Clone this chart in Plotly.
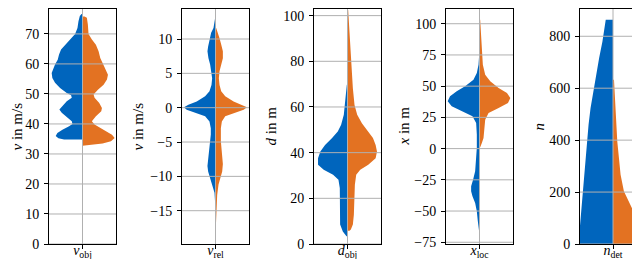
import plotly.graph_objects as go

BLUE = "#0065BD"
ORANGE = "#E37222"
GRID = "#b0b0b0"
FONT = "Liberation Serif"

# ---------------- data (density half-widths) -------------
# Panel 1: v_obj
vobj_blue_y = [76.6, 76.0, 74.2, 72.0, 70.0, 68.1, 66.4, 64.8, 63.1, 61.4, 59.8, 58.1, 57.0, 55.3,
               53.7, 52.0, 50.3, 49.6, 48.7, 47.6, 45.9, 44.8, 43.7, 42.0, 40.9, 40.0, 39.2,
               38.1, 37.0, 36.0, 35.2, 34.8]
vobj_blue_w = [0.03, 0.08, 0.12, 0.15, 0.22, 0.37, 0.52, 0.64, 0.70, 0.74, 0.82, 0.89, 0.92, 0.90,
               0.82, 0.67, 0.47, 0.34, 0.32, 0.47, 0.62, 0.69, 0.62, 0.44, 0.32, 0.30, 0.40,
               0.60, 0.75, 0.80, 0.72, 0.55]
vobj_orange_y = [75.8, 75.4, 73.1, 70.0, 68.1, 66.4, 64.2, 62.0, 60.3, 58.1, 56.4, 54.8, 53.1,
                 51.4, 49.8, 48.7, 47.0, 45.3, 44.2, 42.6, 40.9, 39.8, 38.1, 36.4, 35.3, 34.2,
                 33.5, 33.0, 32.7]
vobj_orange_w = [0.06, 0.13, 0.16, 0.18, 0.28, 0.40, 0.48, 0.53, 0.60, 0.70, 0.76, 0.73, 0.63,
                 0.46, 0.33, 0.36, 0.50, 0.58, 0.56, 0.40, 0.28, 0.36, 0.62, 0.88, 0.96, 0.85,
                 0.60, 0.30, 0.10]

# Panel 2: v_rel
vrel_blue_y = [13.1, 11.6, 10.9, 9.9, 8.9, 8.2, 7.2, 6.3, 5.3, 4.3, 3.3, 2.4, 1.65, 0.9, 0.44, 0.05,
               -0.3, -0.8, -1.26, -2.0, -3.0, -3.9, -4.9, -5.9, -6.8, -7.8, -8.5, -9.3, -10.0,
               -10.7, -11.5, -12.4, -13.6, -15.0]
vrel_blue_w = [0.01, 0.06, 0.13, 0.18, 0.22, 0.24, 0.21, 0.16, 0.12, 0.10, 0.12, 0.18, 0.31, 0.56,
               0.81, 0.94, 0.86, 0.56, 0.31, 0.18, 0.14, 0.14, 0.16, 0.18, 0.20, 0.22, 0.24, 0.22,
               0.18, 0.13, 0.08, 0.03, 0.015, 0.005]
vrel_orange_y = [11.6, 11.1, 10.1, 9.2, 8.2, 7.2, 6.3, 5.3, 4.3, 3.3, 2.4, 1.65, 0.9, 0.44, 0.05,
                 -0.3, -0.8, -1.26, -2.0, -3.0, -4.9, -6.8, -8.2, -9.3, -10.2, -11.2, -12.7,
                 -14.6, -16.6, -18.5]
vrel_orange_w = [0.02, 0.06, 0.12, 0.17, 0.22, 0.22, 0.17, 0.12, 0.10, 0.12, 0.17, 0.29, 0.54,
                 0.79, 0.94, 0.84, 0.54, 0.29, 0.19, 0.16, 0.16, 0.19, 0.22, 0.20, 0.14, 0.09,
                 0.05, 0.03, 0.02, 0.008]

# Panel 3: d_obj
dobj_blue_y = [69.7, 65.3, 60.9, 56.6, 52.2, 49.3, 46.4, 43.4, 40.5, 37.6, 34.7, 32.5, 30.3, 28.1,
               24.5, 18.7, 12.8, 8.5, 5.5, 4.1, 3.4]
dobj_blue_w = [0.02, 0.05, 0.08, 0.11, 0.19, 0.29, 0.46, 0.67, 0.81, 0.88, 0.88, 0.71, 0.43, 0.27,
               0.23, 0.23, 0.24, 0.22, 0.14, 0.08, 0.03]
dobj_orange_y = [102.5, 94.5, 85.7, 77.0, 68.2, 60.9, 56.6, 52.9, 49.3, 46.4, 43.4, 40.5, 37.6,
                 34.7, 32.5, 30.3, 25.9, 20.1, 12.8, 8.5, 6.3, 5.8]
dobj_orange_w = [0.02, 0.05, 0.08, 0.11, 0.16, 0.21, 0.29, 0.43, 0.62, 0.76, 0.84, 0.88, 0.84,
                 0.62, 0.38, 0.26, 0.22, 0.21, 0.19, 0.16, 0.10, 0.06]

# Panel 4: x_loc
xloc_blue_y = [75.2, 67.2, 60.5, 55.2, 49.9, 45.9, 41.9, 37.9, 33.9, 29.9, 25.9, 20.5, 11.2, 0.5,
               -10.1, -18.1, -24.8, -30.1, -34.1, -38.1, -43.5, -50.1, -58.1, -66.2, -68.8]
xloc_blue_w = [0.01, 0.03, 0.08, 0.18, 0.43, 0.68, 0.88, 0.95, 0.83, 0.53, 0.21, 0.10, 0.08, 0.08,
               0.10, 0.13, 0.19, 0.25, 0.25, 0.21, 0.13, 0.08, 0.05, 0.02, 0.01]
xloc_orange_y = [103.2, 91.2, 77.9, 67.2, 59.2, 53.9, 48.5, 44.5, 40.5, 36.5, 32.5, 28.5, 23.2,
                 16.5, 8.5, 4.5, 1.9, 1.1]
xloc_orange_w = [0.02, 0.04, 0.07, 0.10, 0.17, 0.32, 0.57, 0.82, 0.92, 0.85, 0.57, 0.27, 0.17,
                 0.15, 0.12, 0.07, 0.04, 0.02]

# Panel 5: n_det
ndet_blue_y = [864, 832, 780, 716, 652, 588, 524, 460, 395, 331, 267, 203, 139, 87, 40, 0]
ndet_blue_w = [0.22, 0.25, 0.32, 0.42, 0.51, 0.61, 0.68, 0.74, 0.78, 0.83, 0.88, 0.91, 0.96,
               0.99, 1.02, 1.05]
ndet_orange_y = [633, 588, 524, 460, 395, 331, 267, 203, 139, 113, 74, 49, 23, 10, 0]
ndet_orange_w = [0.03, 0.05, 0.07, 0.09, 0.13, 0.18, 0.23, 0.33, 0.58, 0.68, 0.83, 0.91, 0.93,
                 0.91, 0.88]

# ---------------- axes description -------------
x_labels = ["<i>v</i><sub>obj</sub>", "<i>v</i><sub>rel</sub>", "<i>d</i><sub>obj</sub>",
            "<i>x</i><sub>loc</sub>", "<i>n</i><sub>det</sub>"]
y_titles = ["<i>v</i> in m/s", "<i>v</i> in m/s", "<i>d</i> in m", "<i>x</i> in m", "<i>n</i>"]
y_ticks = [[0, 10, 20, 30, 40, 50, 60, 70],
           [-15, -10, -5, 0, 5, 10],
           [0, 20, 40, 60, 80, 100],
           [-75, -50, -25, 0, 25, 50, 75, 100],
           [0, 200, 400, 600, 800]]
y_ranges = [[0, 78.3], [-19.85, 14.37], [0, 102.9], [-76.4, 111.8], [0, 905]]

panels = [
    (vobj_blue_y, vobj_blue_w, vobj_orange_y, vobj_orange_w),
    (vrel_blue_y, vrel_blue_w, vrel_orange_y, vrel_orange_w),
    (dobj_blue_y, dobj_blue_w, dobj_orange_y, dobj_orange_w),
    (xloc_blue_y, xloc_blue_w, xloc_orange_y, xloc_orange_w),
    (ndet_blue_y, ndet_blue_w, ndet_orange_y, ndet_orange_w),
]

W, H = 640, 259
px_domains = [(41, 108), (174, 241), (306, 373), (438, 505), (572, 638)]
title_offsets = [33, 45, 44, 43, 42]   # px from the axis line to the y-title centre

fig = go.Figure()
layout = dict(
    width=W, height=H,
    margin=dict(l=0, r=0, t=1, b=23),
    paper_bgcolor="white", plot_bgcolor="white",
    showlegend=False,
    font=dict(family=FONT, size=14, color="black"),
)
shapes = []
annotations = []

for i, (by, bw, oy, ow) in enumerate(panels):
    n = "" if i == 0 else str(i + 1)
    xa, ya = "x" + n, "y" + n
    fig.add_trace(go.Scatter(
        x=[-w for w in bw] + [0, 0], y=list(by) + [by[-1], by[0]],
        fill="toself", fillcolor=BLUE, mode="lines", line=dict(width=0, color=BLUE),
        xaxis=xa, yaxis=ya, hoverinfo="skip"))
    fig.add_trace(go.Scatter(
        x=list(ow) + [0, 0], y=list(oy) + [oy[-1], oy[0]],
        fill="toself", fillcolor=ORANGE, mode="lines", line=dict(width=0, color=ORANGE),
        xaxis=xa, yaxis=ya, hoverinfo="skip"))

    d0, d1 = px_domains[i]
    layout["xaxis" + n] = dict(
        domain=[d0 / W, d1 / W], range=[-1, 1], anchor=ya, automargin=False,
        tickmode="array", tickvals=[0], ticktext=[x_labels[i]],
        showgrid=False, zeroline=False, showline=True, mirror=True,
        linecolor="black", linewidth=1, ticks="outside", ticklen=4, tickwidth=1,
        tickcolor="black", fixedrange=True, layer="above traces",
        tickfont=dict(family=FONT, size=14), ticklabelstandoff=-11,
    )
    layout["yaxis" + n] = dict(
        domain=[0, 1], range=y_ranges[i], anchor=xa, automargin=False,
        tickmode="array", tickvals=y_ticks[i],
        showgrid=False, zeroline=False, showline=True, mirror=True,
        linecolor="black", linewidth=1, ticks="outside", ticklen=4, tickwidth=1,
        tickcolor="black", fixedrange=True, layer="above traces",
        tickfont=dict(family=FONT, size=14), ticklabelstandoff=2,
    )
    annotations.append(dict(
        text=y_titles[i], textangle=-90, showarrow=False,
        xref=xa + " domain", yref=ya + " domain", x=0, y=0.5,
        xanchor="center", yanchor="middle", xshift=-title_offsets[i],
        font=dict(family=FONT, size=15, color="black")))
    for t in y_ticks[i]:
        shapes.append(dict(type="line", xref=xa + " domain", yref=ya, x0=0, x1=1, y0=t, y1=t,
                           line=dict(color=GRID, width=1), layer="above"))
    shapes.append(dict(type="line", xref=xa, yref=ya + " domain", x0=0, x1=0, y0=0, y1=1,
                       line=dict(color=GRID, width=1), layer="above"))

layout["shapes"] = shapes
layout["annotations"] = annotations
fig.update_layout(**layout)
fig.write_html("out.html")
